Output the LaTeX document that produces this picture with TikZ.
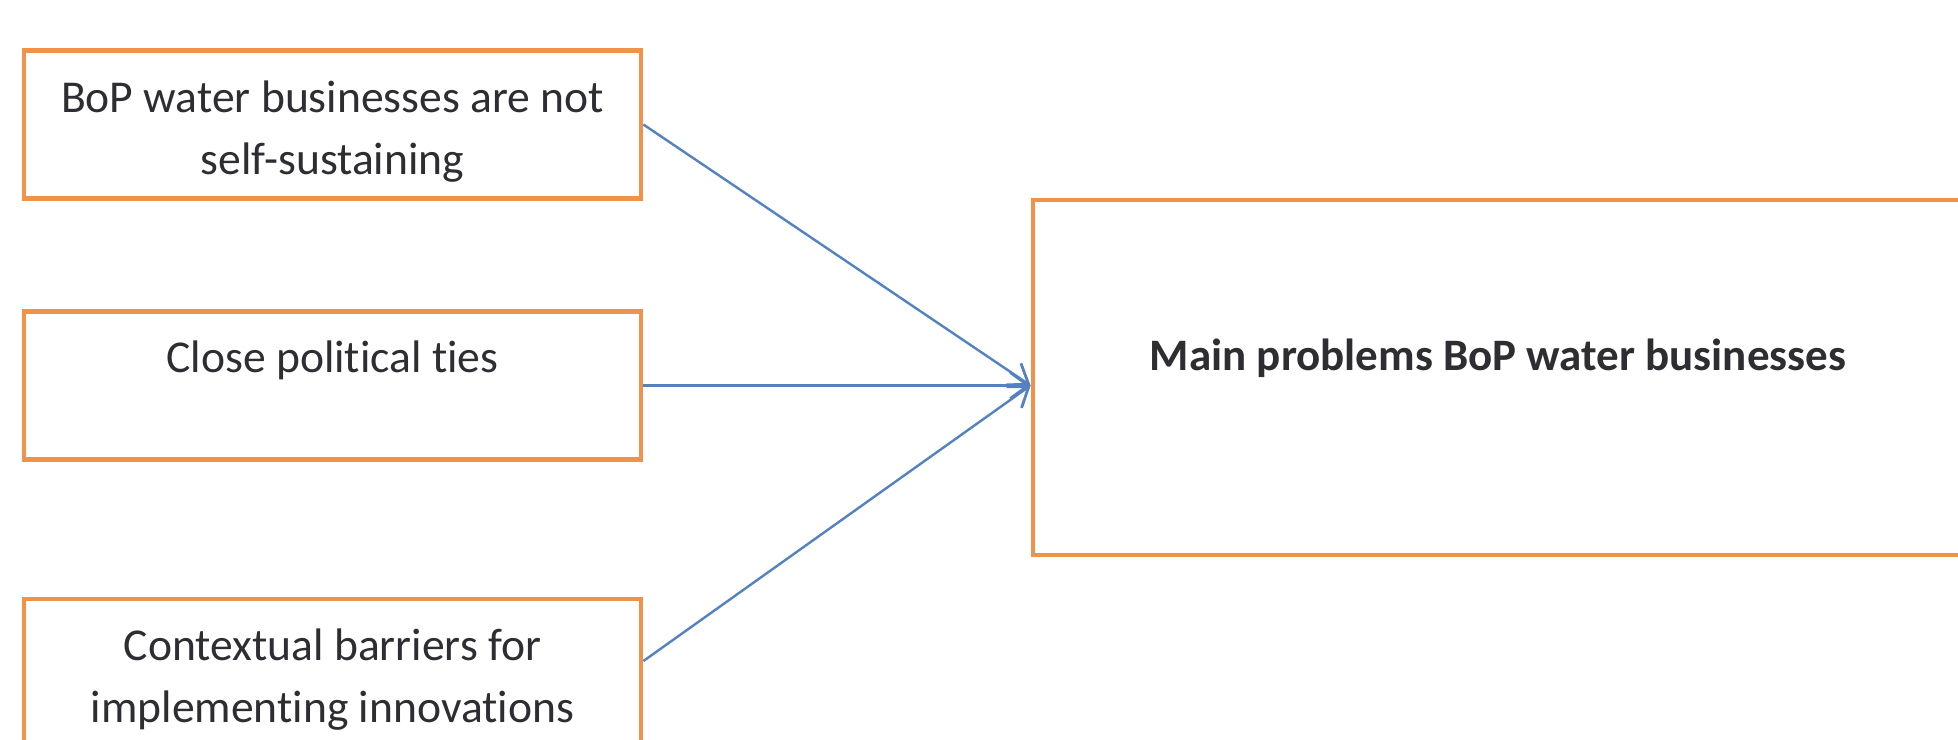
\documentclass[tikz,border=0pt]{standalone}
\usepackage{fontspec}
\setmainfont{Carlito}[Ligatures=NoCommon]
\usetikzlibrary{arrows.meta,calc}

\definecolor{boxorange}{RGB}{240,146,72}
\definecolor{arrowblue}{RGB}{84,130,192}
\definecolor{inkgrey}{RGB}{45,45,50}

\begin{document}
\begin{tikzpicture}[x=0.5pt,y=-0.5pt,
  causebox/.style={draw=boxorange, line width=2.4pt, fill=white,
    minimum width=308.5pt, minimum height=74pt, inner sep=0pt},
  boxtext/.style={text=inkgrey, font=\fontsize{22.8}{31}\selectfont,
    align=center, inner sep=0pt, anchor=north},
  link/.style={draw=arrowblue, line width=1.2pt,
    -{Straight Barb[length=9pt,width=13pt,line width=1.4pt]}}]

  \useasboundingbox (0,0) rectangle (1958,739);

  % causes on the left
  \node[causebox] (b1) at (332.5,124.5) {};
  \node[causebox] (b2) at (332.5,385.5) {};
  \node[causebox] (b3) at (332.5,673) {};

  % the main problem box, running past the right edge
  \node[causebox, minimum width=465pt, minimum height=177.5pt] (main) at (1498,377.5) {};

  \node[boxtext] (t1) at ($(b1.north)+(0,32)$) {BoP water businesses are not\\self-sustaining};
  \node[boxtext] (t2) at ($(b2.north)+(0,31)$) {Close political ties};
  \node[boxtext] (t3) at ($(b3.north)+(0,32)$) {Contextual barriers for\\implementing innovations};
  \node[boxtext, font=\fontsize{22.5}{31}\selectfont\bfseries] (tm) at ($(main.north)+(0,141)$) {Main problems BoP water businesses};

  % connectors meeting at one point on the main box
  \coordinate (tip) at (main.west |- b2.east);
  \draw[link] (b1.east) -- (tip);
  \draw[link] (b2.east) -- (tip);
  \draw[link] ([yshift=6pt]b3.east) -- (tip);
\end{tikzpicture}
\end{document}
